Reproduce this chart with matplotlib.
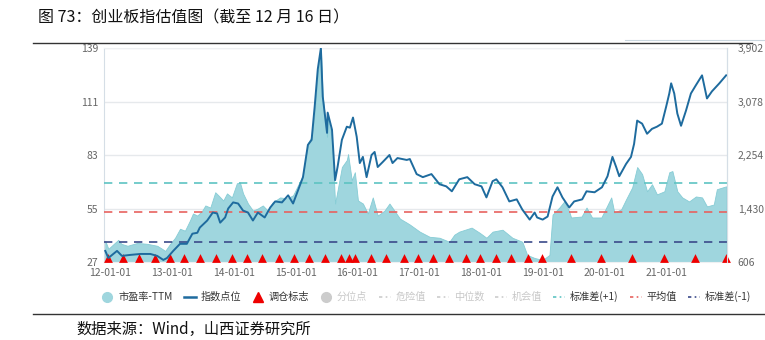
import matplotlib
matplotlib.use('Agg')
import matplotlib.pyplot as plt
from matplotlib.lines import Line2D
import numpy as np

plt.rcParams['font.family'] = ['Noto Sans CJK SC', 'DejaVu Sans']

# PE-TTM (left axis), x in decimal years
pe_years = [2011.92, 2011.97, 2012.13, 2012.18, 2012.28, 2012.44, 2012.60, 2012.76, 2012.84, 2012.89,
            2012.97, 2013.05, 2013.13, 2013.21, 2013.29, 2013.34, 2013.41, 2013.49, 2013.54, 2013.62,
            2013.70, 2013.75, 2013.83, 2013.89, 2013.97, 2014.05, 2014.10, 2014.15, 2014.23, 2014.31,
            2014.39, 2014.47, 2014.55, 2014.63, 2014.75, 2014.86, 2014.96, 2015.04, 2015.12, 2015.20,
            2015.26, 2015.31, 2015.36, 2015.41, 2015.44, 2015.51, 2015.52, 2015.59, 2015.64, 2015.68,
            2015.75, 2015.83, 2015.85, 2015.91, 2015.96, 2016.01, 2016.09, 2016.17, 2016.25, 2016.33,
            2016.44, 2016.52, 2016.60, 2016.69, 2016.80, 2016.85, 2017.01, 2017.17, 2017.33, 2017.49,
            2017.57, 2017.65, 2017.85, 2017.98, 2018.09, 2018.19, 2018.35, 2018.51, 2018.67, 2018.75,
            2018.87, 2019.00, 2019.11, 2019.16, 2019.27, 2019.35, 2019.43, 2019.46, 2019.63, 2019.71,
            2019.80, 2019.95, 2020.03, 2020.11, 2020.16, 2020.27, 2020.35, 2020.45, 2020.53, 2020.61,
            2020.69, 2020.77, 2020.85, 2020.97, 2021.05, 2021.10, 2021.18, 2021.26, 2021.37, 2021.48,
            2021.58, 2021.66, 2021.77, 2021.82, 2021.97]
pe_values = [38.1, 33.9, 38.6, 36.5, 35.5, 37.0, 36.5, 35.5, 33.9, 32.8,
             36.5, 39.7, 44.4, 43.4, 48.7, 52.4, 51.3, 53.9, 56.6, 55.5,
             63.5, 61.9, 59.2, 62.9, 60.8, 68.2, 68.7, 62.9, 57.6, 53.9,
             55.0, 56.6, 53.9, 58.2, 60.8, 60.3, 61.9, 67.2, 72.4, 89.3,
             92.5, 105.2, 126.3, 138.5, 113.6, 92.5, 103.0, 90.9, 57.6, 64.5,
             76.7, 80.4, 83.5, 69.8, 74.0, 59.2, 57.6, 52.4, 60.8, 51.3,
             53.9, 57.6, 53.9, 49.7, 47.6, 46.6, 42.9, 40.2, 39.7, 37.6,
             41.3, 42.9, 45.0, 42.3, 39.7, 42.9, 43.9, 39.7, 37.6, 30.7,
             29.1, 28.1, 30.7, 51.8, 55.5, 58.7, 53.4, 50.3, 50.8, 55.5,
             50.3, 50.3, 55.5, 60.8, 52.9, 54.5, 59.8, 66.1, 76.7, 73.0,
             64.0, 67.7, 62.4, 64.0, 74.0, 74.6, 64.0, 60.8, 58.7, 61.3,
             60.8, 56.1, 57.1, 65.1, 66.6]

# index level (right axis)
idx_years = [2011.92, 2011.97, 2012.11, 2012.19, 2012.32, 2012.49, 2012.65, 2012.76, 2012.86, 2012.92,
             2013.02, 2013.13, 2013.24, 2013.33, 2013.41, 2013.45, 2013.57, 2013.66, 2013.73, 2013.78,
             2013.86, 2013.91, 2013.99, 2014.07, 2014.15, 2014.23, 2014.31, 2014.39, 2014.50, 2014.59,
             2014.67, 2014.78, 2014.88, 2014.96, 2015.04, 2015.12, 2015.20, 2015.26, 2015.31, 2015.36,
             2015.41, 2015.44, 2015.51, 2015.52, 2015.59, 2015.64, 2015.68, 2015.75, 2015.83, 2015.88,
             2015.93, 2015.99, 2016.04, 2016.09, 2016.15, 2016.23, 2016.28, 2016.33, 2016.41, 2016.52,
             2016.57, 2016.65, 2016.80, 2016.85, 2016.96, 2017.06, 2017.20, 2017.33, 2017.44, 2017.53,
             2017.65, 2017.78, 2017.90, 2018.01, 2018.09, 2018.19, 2018.25, 2018.35, 2018.46, 2018.58,
             2018.67, 2018.79, 2018.87, 2018.91, 2019.00, 2019.08, 2019.16, 2019.24, 2019.32, 2019.43,
             2019.51, 2019.64, 2019.71, 2019.84, 2019.96, 2020.05, 2020.13, 2020.19, 2020.24, 2020.35,
             2020.43, 2020.48, 2020.53, 2020.61, 2020.69, 2020.77, 2020.85, 2020.93, 2021.00, 2021.05,
             2021.08, 2021.13, 2021.18, 2021.24, 2021.32, 2021.40, 2021.48, 2021.58, 2021.66, 2021.74,
             2021.86, 2021.97]
idx_values = [777, 668, 777, 700, 715, 730, 730, 700, 638, 668,
              777, 886, 886, 1042, 1056, 1136, 1245, 1368, 1354, 1212,
              1292, 1430, 1524, 1507, 1398, 1368, 1245, 1368, 1292, 1445,
              1539, 1524, 1633, 1507, 1710, 1913, 2410, 2487, 3002, 3576,
              3900, 3155, 2595, 2907, 2643, 1866, 2069, 2487, 2690, 2675,
              2831, 2534, 2130, 2225, 1913, 2254, 2301, 2069, 2145, 2254,
              2130, 2207, 2178, 2192, 1960, 1913, 1960, 1804, 1771, 1695,
              1880, 1913, 1804, 1771, 1601, 1851, 1880, 1757, 1539, 1571,
              1415, 1259, 1368, 1292, 1259, 1306, 1615, 1757, 1601, 1445,
              1539, 1571, 1695, 1680, 1757, 1927, 2225, 2069, 1927, 2116,
              2225, 2425, 2784, 2737, 2581, 2657, 2690, 2737, 3002, 3202,
              3358, 3202, 2893, 2704, 2937, 3202, 3328, 3481, 3125, 3234,
              3358, 3481]

# rebalancing marks (调仓标志)
rebal_years = [2011.96, 2012.20, 2012.46, 2012.73, 2012.96, 2013.20, 2013.45, 2013.72, 2013.97,
               2014.22, 2014.46, 2014.73, 2014.98, 2015.21, 2015.47, 2015.73, 2015.87, 2015.97,
               2016.22, 2016.47, 2016.76, 2016.99, 2017.23, 2017.49, 2017.76, 2017.99, 2018.24,
               2018.49, 2018.76, 2018.99, 2019.46, 2019.95, 2020.45, 2020.96, 2021.46, 2021.96]

pe_plus1 = 68.6
pe_mean = 53.1
pe_minus1 = 37.6

left_ticks = [27, 55, 83, 111, 139]
right_ticks = [606, 1430, 2254, 3078, 3902]
year_ticks = [2012, 2013, 2014, 2015, 2016, 2017, 2018, 2019, 2020, 2021]
year_labels = ['12-01-01', '13-01-01', '14-01-01', '15-01-01', '16-01-01',
               '17-01-01', '18-01-01', '19-01-01', '20-01-01', '21-01-01']

fill_c = '#9fd6de'
line_c = '#1e6b9e'
tick_c = '#666666'

fig = plt.figure(figsize=(7.65, 3.4), dpi=100)
ax = fig.add_axes([0.136, 0.2294, 0.814, 0.6294])

ax.fill_between(pe_years, 27, pe_values, color=fill_c, edgecolor='#86ccd5', linewidth=0.6, zorder=2)
ax.axhline(pe_plus1, color='#5ec3c2', linestyle=(0, (5, 4)), linewidth=1.2, zorder=3)
ax.axhline(pe_mean, color='#e8625f', linestyle=(0, (5, 4)), linewidth=1.2, zorder=3)
ax.axhline(pe_minus1, color='#3b4a8a', linestyle=(0, (5, 4)), linewidth=1.2, zorder=3)
ax.scatter(rebal_years, [0.018] * len(rebal_years), marker='^', s=40, color='#ee0000',
           transform=ax.get_xaxis_transform(), clip_on=False, zorder=6, linewidths=0)

ax.set_xlim(2011.9, 2021.98)
ax.set_ylim(27, 139)
ax.set_yticks(left_ticks)
ax.set_xticks(year_ticks)
ax.set_xticklabels(year_labels)
ax.grid(axis='y', color='#e6e9ec', linewidth=1, zorder=0)
ax.tick_params(length=0, labelsize=7.5, labelcolor=tick_c, pad=4)
for s in ['top', 'bottom']:
    ax.spines[s].set_color('#eef0f2')
ax.spines['left'].set_color('#d5dee6')
ax.spines['right'].set_color('#d5dee6')

ax2 = ax.twinx()
ax2.plot(idx_years, idx_values, color=line_c, linewidth=1.4, zorder=5)
ax2.set_ylim(606, 3902)
ax2.set_yticks(right_ticks)
ax2.set_yticklabels([f'{v:,}' for v in right_ticks])
ax2.tick_params(length=0, labelsize=7.5, labelcolor=tick_c, pad=8)
for s in ['top', 'bottom', 'left']:
    ax2.spines[s].set_visible(False)
ax2.spines['right'].set_color('#d5dee6')

# legend
dash = (0, (2, 2, 1, 2))
handles = [
    Line2D([], [], marker='o', linestyle='', color=fill_c, markersize=7),
    Line2D([], [], color=line_c, linewidth=1.8),
    Line2D([], [], marker='^', linestyle='', color='#ee0000', markersize=7),
    Line2D([], [], marker='o', linestyle='', color='#cccccc', markersize=7),
    Line2D([], [], color='#cccccc', linestyle=dash, linewidth=1.2),
    Line2D([], [], color='#cccccc', linestyle=dash, linewidth=1.2),
    Line2D([], [], color='#cccccc', linestyle=dash, linewidth=1.2),
    Line2D([], [], color='#5ec3c2', linestyle=dash, linewidth=1.2),
    Line2D([], [], color='#e8625f', linestyle=dash, linewidth=1.2),
    Line2D([], [], color='#3b4a8a', linestyle=dash, linewidth=1.2),
]
labels = ['市盈率-TTM', '指数点位', '调仓标志', '分位点', '危险值', '中位数', '机会值',
          '标准差(+1)', '平均值', '标准差(-1)']
leg = fig.legend(handles, labels, loc='center', bbox_to_anchor=(0.557, 0.127), ncol=10,
                 frameon=False, fontsize=7.3, handlelength=1.2, handletextpad=0.45,
                 columnspacing=1.1, borderpad=0)
for i, t in enumerate(leg.get_texts()):
    t.set_color('#c8c8c8' if 3 <= i <= 6 else '#333333')

# title, rules and source
fig.text(0.050, 0.947, '图 73：创业板指估值图（截至 12 月 16 日）', fontsize=11.5,
         color='#111111', va='center', ha='left')
fig.add_artist(Line2D([0.043, 0.983], [0.874, 0.874], color='#333333', linewidth=1.0))
fig.add_artist(Line2D([0.817, 1.0], [0.882, 0.882], color='#c9d6de', linewidth=0.8))
fig.add_artist(Line2D([0.043, 1.0], [0.077, 0.077], color='#333333', linewidth=1.0))
fig.text(0.100, 0.030, '数据来源：Wind，山西证券研究所', fontsize=11, color='#111111',
         va='center', ha='left')

fig.savefig('out.png', dpi=100)
